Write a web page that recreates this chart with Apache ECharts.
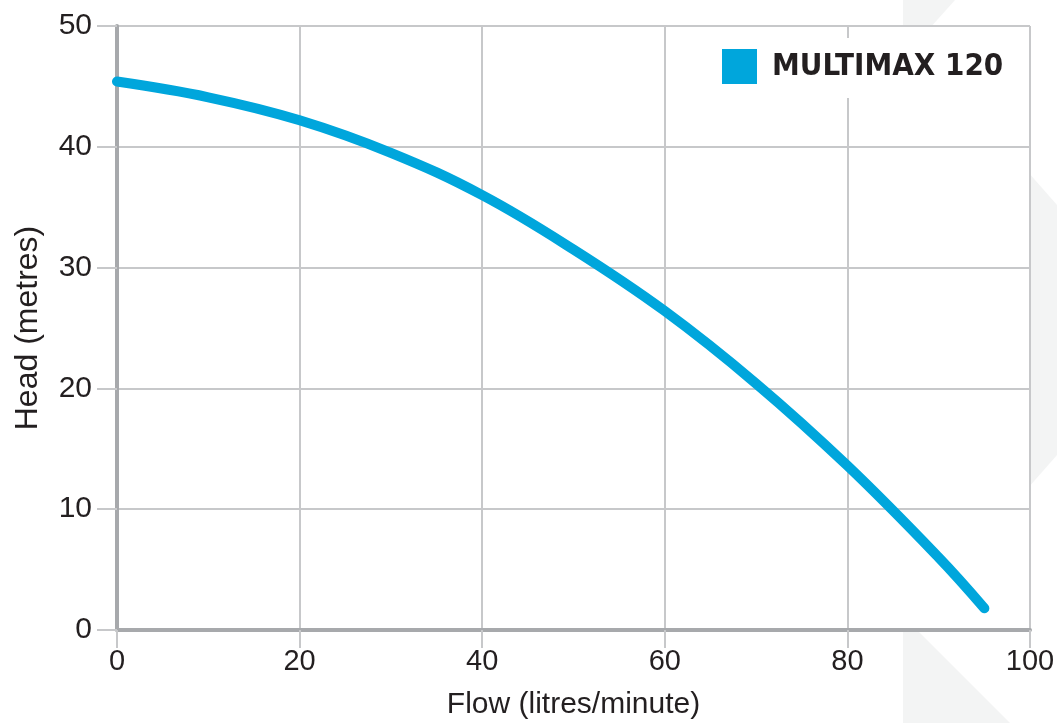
<!DOCTYPE html>
<html>
<head>
<meta charset="utf-8">
<style>
html,body{margin:0;padding:0;background:#fff;}
#chart{width:1057px;height:723px;}
</style>
<script src="https://cdn.jsdelivr.net/npm/echarts@6/dist/echarts.min.js"></script>
</head>
<body>
<div id="chart"></div>
<script>
const seriesName = 'MULTIMAX 120';
const flow = [0, 10, 20, 30, 40, 50, 60, 70, 80, 90, 95];
const head = [45.4, 44.1, 42.2, 39.5, 36.0, 31.5, 26.4, 20.4, 13.6, 6.0, 1.8];
const xTicks = [0, 20, 40, 60, 80, 100];
const yTicks = [0, 10, 20, 30, 40, 50];

const chart = echarts.init(document.getElementById('chart'));
const font = '"Liberation Sans", Arial, Helvetica, sans-serif';
const wm = '#f3f4f4';
chart.setOption({
  backgroundColor: '#fff',
  animation: false,
  graphic: [
    {type: 'polygon', z: -10, shape: {points: [[903, 0], [955, 0], [903, 58]]}, style: {fill: wm}},
    {type: 'polygon', z: -10, shape: {points: [[903, 30], [1057, 205], [1057, 455], [903, 630]]}, style: {fill: wm}},
    {type: 'polygon', z: -10, shape: {points: [[903, 616], [1010, 723], [903, 723]]}, style: {fill: wm}}
  ],
  grid: {left: 117, right: 27, top: 26, bottom: 93, outerBoundsMode: 'none', containLabel: false, show: true, backgroundColor: '#fff', borderWidth: 0, z: 0},
  legend: {
    data: [{name: seriesName, icon: 'rect'}],
    left: 705, top: 38,
    padding: [11, 20, 14, 17],
    backgroundColor: '#fff',
    itemWidth: 35, itemHeight: 35,
    textStyle: {fontFamily: '"DejaVu Sans Condensed", "DejaVu Sans", sans-serif', fontWeight: 'bold', fontSize: 31, color: '#231f20', padding: [8, 0, 0, 10]}
  },
  xAxis: {
    type: 'value', min: 0, max: 100, interval: 20,
    name: 'Flow (litres/minute)', nameLocation: 'middle', nameGap: 60,
    nameTextStyle: {fontFamily: font, fontSize: 30, color: '#231f20'},
    axisLine: {show: true, lineStyle: {color: '#a7a9ac', width: 4}},
    axisTick: {show: true, length: 18, lineStyle: {color: '#c7c8ca', width: 2}},
    axisLabel: {fontFamily: font, fontSize: 29, color: '#231f20', margin: 17,
      formatter: v => xTicks.includes(v) ? String(v) : ''},
    splitLine: {show: true, lineStyle: {color: '#c7c8ca', width: 2}}
  },
  yAxis: {
    type: 'value', min: 0, max: 50, interval: 10,
    name: 'Head (metres)', nameLocation: 'middle', nameGap: 73,
    nameTextStyle: {fontFamily: font, fontSize: 32, color: '#231f20'},
    axisLine: {show: true, lineStyle: {color: '#a7a9ac', width: 4}},
    axisTick: {show: true, length: 20, lineStyle: {color: '#c7c8ca', width: 2}},
    axisLabel: {fontFamily: font, fontSize: 30, color: '#231f20', margin: 25,
      formatter: v => yTicks.includes(v) ? String(v) : ''},
    splitLine: {show: true, lineStyle: {color: '#c7c8ca', width: 2}}
  },
  series: [{
    name: seriesName,
    type: 'line',
    data: flow.map((x, i) => [x, head[i]]),
    smooth: 0.4,
    symbol: 'none',
    color: '#00a6dc',
    lineStyle: {width: 10, color: '#00a6dc', cap: 'round', join: 'round'},
    z: 5
  }]
});
</script>
</body>
</html>
